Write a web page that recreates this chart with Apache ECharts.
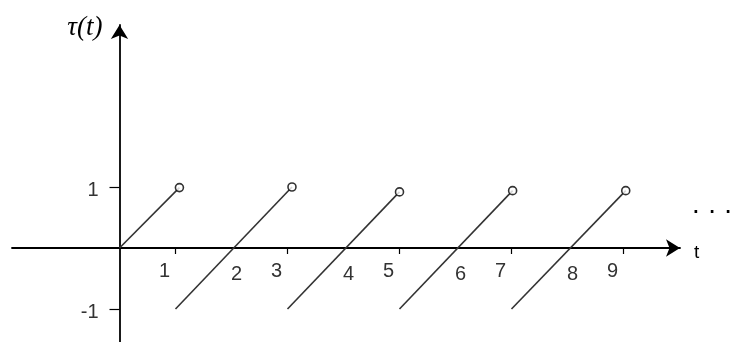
<!DOCTYPE html>
<html><head><meta charset="utf-8">
<script src="https://cdn.jsdelivr.net/npm/echarts@6/dist/echarts.min.js"></script>
<style>html,body{margin:0;padding:0;background:#fff}#c{width:740px;height:342px}</style>
</head><body><div id="c"></div>
<script>
const xLabelValues = [1, 2, 3, 4, 5, 6, 7, 8, 9];
const xTickValues = [1, 3, 5, 7, 9];
const yTickValues = [1, -1];
const segStartX = [0, 1, 3, 5, 7];
const segStartY = [0, -1, -1, -1, -1];
const segEndX = [1.07, 3.08, 5.0, 7.02, 9.04];
const segEndY = [0.99, 1.0, 0.92, 0.94, 0.94];

// layout (pixels)
const gridLeft = 12, gridTop = 25, gridW = 668, gridH = 317;
const originX = 119.5, originY = 248, unitX = 56, unitY = 61;

const chart = echarts.init(document.getElementById('c'));
const lineSeries = segStartX.map((sx, i) => ({
  type: 'line', data: [[sx, segStartY[i]], [segEndX[i], segEndY[i]]],
  showSymbol: false, silent: true, z: 3,
  lineStyle: { color: '#333', width: 1.6 }
}));
const circleSeries = {
  type: 'scatter', data: segEndX.map((x, i) => [x, segEndY[i]]),
  symbol: 'circle', symbolSize: 8, z: 5,
  itemStyle: { color: '#fff', borderColor: '#000', borderWidth: 1.6 }
};
const labelFont = { fontFamily: 'Liberation Sans', fontSize: 20, color: '#333' };
chart.setOption({
  animation: false,
  grid: { left: gridLeft, width: gridW, top: gridTop, height: gridH, containLabel: false, outerBoundsMode: 'none' },
  xAxis: {
    type: 'value',
    min: -(originX - gridLeft) / unitX,
    max: (gridLeft + gridW - originX) / unitX,
    position: 'bottom', offset: -(gridTop + gridH - originY),
    splitLine: { show: false },
    axisLine: { onZero: false, lineStyle: { color: '#000', width: 1.8 }, symbol: ['none', 'arrow'], symbolSize: [13, 14] },
    axisTick: { show: true, customValues: xTickValues, length: 6, lineStyle: { color: '#000', width: 1.2 } },
    axisLabel: Object.assign({
      customValues: xLabelValues, margin: 13,
      formatter: v => (v % 2 === 1 ? '{o|' + v + '}' : '{e|' + v + '}'),
      rich: { o: Object.assign({ padding: [0, 22, 0, 0] }, labelFont), e: Object.assign({ padding: [3, 0, 0, 10] }, labelFont) }
    }, labelFont),
    name: '{n|t}', nameLocation: 'end', nameGap: 14,
    nameTextStyle: { verticalAlign: 'middle', rich: { n: { fontFamily: 'Liberation Sans', fontSize: 19, color: '#000', padding: [10, 0, 0, 0] } } }
  },
  yAxis: {
    type: 'value',
    min: -(gridTop + gridH - originY) / unitY,
    max: (originY - gridTop) / unitY,
    position: 'left', offset: -(originX - gridLeft),
    splitLine: { show: false },
    axisLine: { onZero: false, lineStyle: { color: '#000', width: 1.8 }, symbol: ['none', 'arrow'], symbolSize: [13, 14] },
    axisTick: { show: true, customValues: yTickValues, length: 10, lineStyle: { color: '#000', width: 1.2 } },
    axisLabel: Object.assign({
      customValues: yTickValues, margin: 21,
      formatter: v => '{a|' + v + '}',
      rich: { a: Object.assign({ padding: [7, 0, 0, 0] }, labelFont) }
    }, labelFont),
    name: 'τ(t)', nameLocation: 'end', nameGap: -3,
    nameTextStyle: { fontFamily: 'Liberation Serif', fontStyle: 'italic', fontSize: 27, color: '#000', align: 'right', verticalAlign: 'middle', padding: [0, 17, 0, 0] }
  },
  graphic: [{ type: 'text', x: 693, y: 209, style: { text: '.  .  .', fontFamily: 'DejaVu Sans', fontWeight: 'bold', fontSize: 15, fill: '#000', verticalAlign: 'middle' } }],
  series: [...lineSeries, circleSeries]
});
</script></body></html>
